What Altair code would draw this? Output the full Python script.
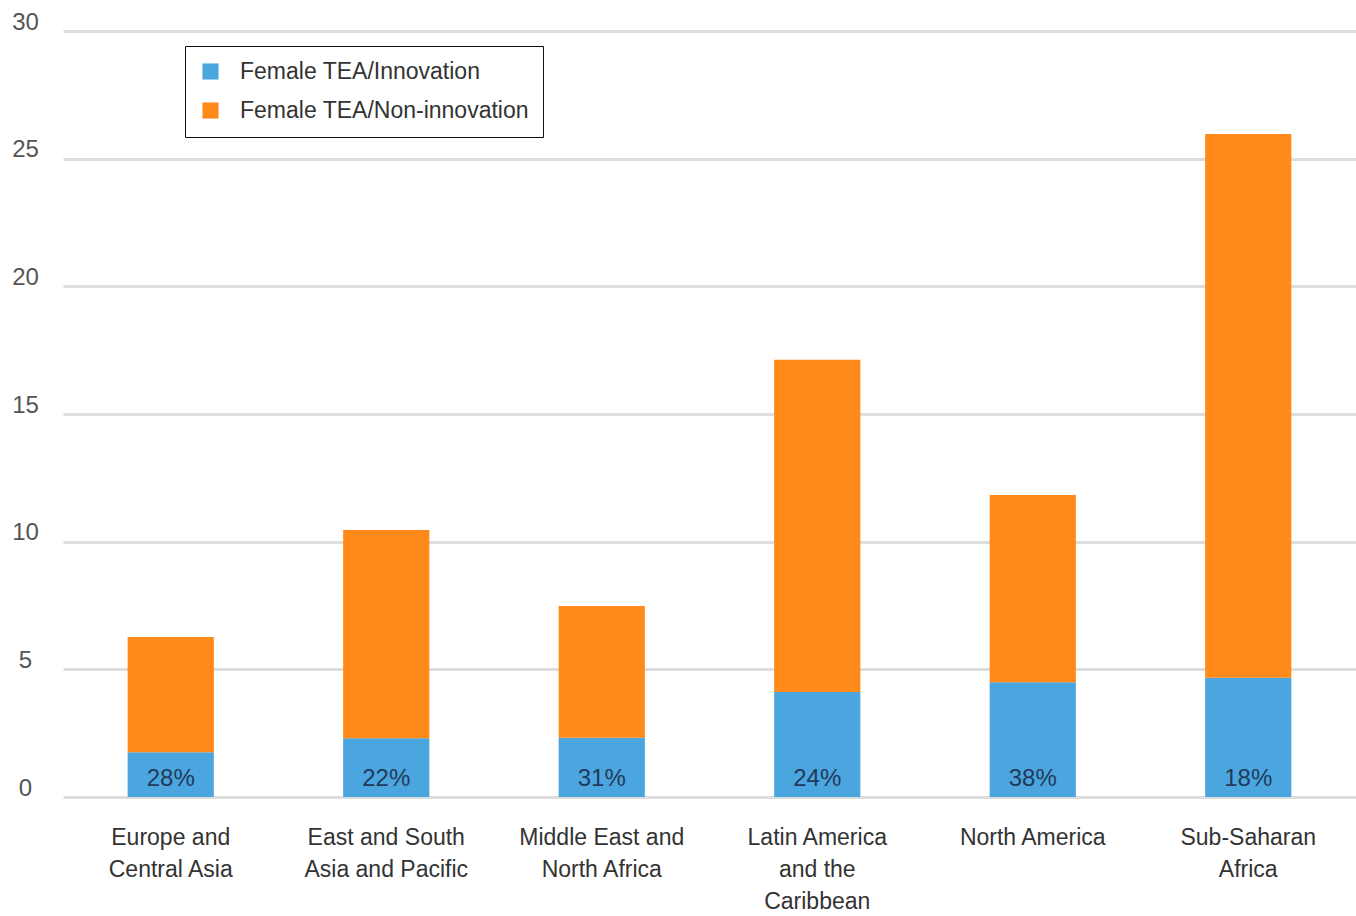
import altair as alt
import pandas as pd

# Regions (line breaks marked with "|"), total female TEA and innovative share
regions = [
    "Europe and|Central Asia",
    "East and South|Asia and Pacific",
    "Middle East and|North Africa",
    "Latin America|and the|Caribbean",
    "North America",
    "Sub-Saharan|Africa",
]
total_tea = [6.27, 10.46, 7.48, 17.12, 11.83, 25.97]
innovation_pct = [28, 22, 31, 24, 38, 18]

series_names = ["Female TEA/Innovation", "Female TEA/Non-innovation"]
series_colors = ["#4BA6DF", "#FF8A1A"]

rows = []
for reg, tot, pct in zip(regions, total_tea, innovation_pct):
    innov = tot * pct / 100.0
    rows.append({"region": reg, "series": series_names[0], "value": innov, "rank": 0})
    rows.append({"region": reg, "series": series_names[1], "value": tot - innov, "rank": 1})
bars_df = pd.DataFrame(rows)

labels_df = pd.DataFrame({
    "region": regions,
    "label": [f"{p}%" for p in innovation_pct],
})

font = "Liberation Sans"

x_enc = alt.X(
    "region:N",
    sort=regions,
    title=None,
    scale=alt.Scale(paddingInner=0.6, paddingOuter=0.3),
    axis=alt.Axis(
        labelExpr="split(datum.label, '|')",
        labelAngle=0,
        labelFont=font,
        labelFontSize=23,
        labelColor="#333333",
        labelLineHeight=32,
        labelPadding=40,
        labelBaseline="middle",
        labelLimit=300,
        domain=False,
        ticks=False,
        grid=False,
    ),
)

bars = alt.Chart(bars_df).mark_bar().encode(
    x=x_enc,
    y=alt.Y(
        "value:Q",
        stack="zero",
        title=None,
        scale=alt.Scale(domain=[0, 30], nice=False),
        axis=alt.Axis(
            values=[0, 5, 10, 15, 20, 25, 30],
            labelFont=font,
            labelFontSize=24,
            labelColor="#555555",
            labelAlign="center",
            labelPadding=38,
            labelOffset=-9,
            domain=False,
            ticks=False,
            grid=True,
            gridColor="#dddddd",
            gridWidth=3,
        ),
    ),
    color=alt.Color(
        "series:N",
        sort=series_names,
        scale=alt.Scale(domain=series_names, range=series_colors),
        legend=alt.Legend(
            title=None,
            orient="none",
            legendX=122,
            legendY=15,
            direction="vertical",
            labelFont=font,
            labelFontSize=23,
            labelColor="#333333",
            labelLimit=400,
            symbolType="square",
            symbolSize=260,
            symbolStrokeWidth=0,
            rowPadding=15,
            labelOffset=18,
            padding=14,
            strokeColor="#111111",
            fillColor="#ffffff",
        ),
    ),
    order=alt.Order("rank:Q"),
)

pct_text = alt.Chart(labels_df).mark_text(
    font=font,
    fontSize=24,
    color="#23395a",
    baseline="bottom",
    dy=-6,
).encode(
    x=alt.X("region:N", sort=regions),
    y=alt.datum(0),
    text="label:N",
)

chart = (
    alt.layer(bars, pct_text)
    .properties(
        width=1293,
        height=766,
        padding={"left": 63, "top": 31, "right": 0, "bottom": 119},
        autosize="none",
        background="#ffffff",
    )
    .configure_view(stroke=None)
)

chart.save("out.html", embed_options={"renderer": "svg", "actions": False})
